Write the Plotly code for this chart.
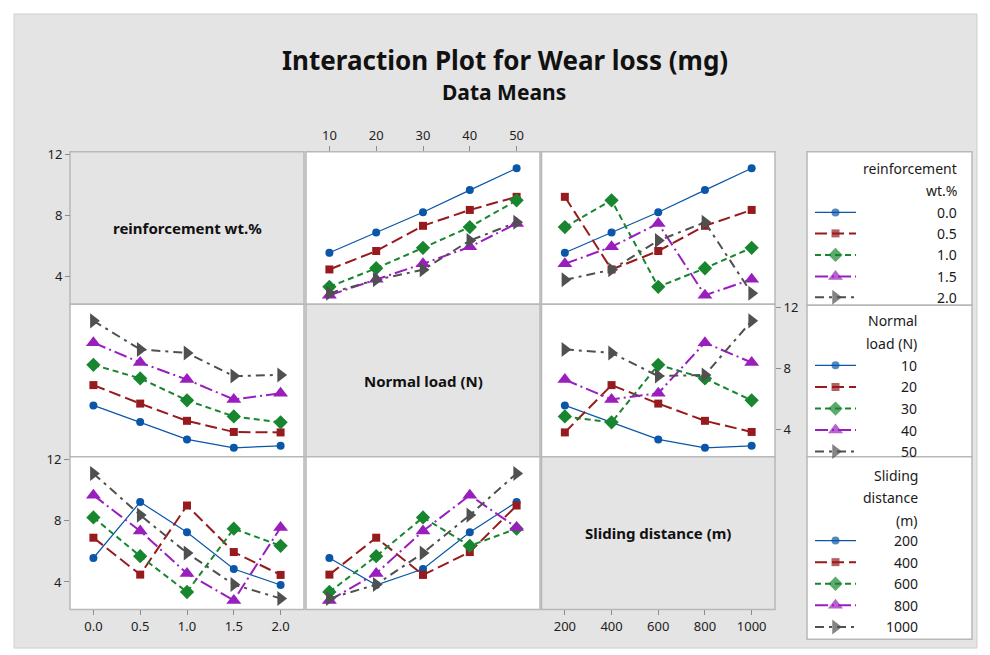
import plotly.graph_objects as go
import pandas as pd

# ---------------- data (L25 runs) ----------------
reinforcement = [0.0, 0.0, 0.0, 0.0, 0.0,
                 0.5, 0.5, 0.5, 0.5, 0.5,
                 1.0, 1.0, 1.0, 1.0, 1.0,
                 1.5, 1.5, 1.5, 1.5, 1.5,
                 2.0, 2.0, 2.0, 2.0, 2.0]
normal_load = [10, 20, 30, 40, 50,
               10, 20, 30, 40, 50,
               10, 20, 30, 40, 50,
               10, 20, 30, 40, 50,
               10, 20, 30, 40, 50]
sliding_distance = [200, 400, 600, 800, 1000,
                    400, 600, 800, 1000, 200,
                    600, 800, 1000, 200, 400,
                    800, 1000, 200, 400, 600,
                    1000, 200, 400, 600, 800]
wear_loss = [5.57, 6.90, 8.23, 9.68, 11.11,
             4.48, 5.69, 7.34, 8.38, 9.24,
             3.34, 4.56, 5.90, 7.26, 9.01,
             2.79, 3.83, 4.85, 5.96, 7.49,
             2.92, 3.80, 4.46, 6.37, 7.57]

reinf_levels = [0.0, 0.5, 1.0, 1.5, 2.0]
load_levels = [10, 20, 30, 40, 50]
dist_levels = [200, 400, 600, 800, 1000]
reinf_labels = ["0.0", "0.5", "1.0", "1.5", "2.0"]
load_labels = ["10", "20", "30", "40", "50"]
dist_labels = ["200", "400", "600", "800", "1000"]
y_ticks = [4, 8, 12]

factor_names = ["reinforcement wt.%", "Normal load (N)", "Sliding distance (m)"]
legend_titles = [["reinforcement", "wt.%"], ["Normal", "load (N)"], ["Sliding", "distance", "(m)"]]

df = pd.DataFrame({"f0": reinforcement, "f1": normal_load, "f2": sliding_distance, "y": wear_loss})
levels = [reinf_levels, load_levels, dist_levels]
labels = [reinf_labels, load_labels, dist_labels]

# ---------------- styling ----------------
W, H = 990, 655
colors = ["#0A56A8", "#971B1E", "#17862F", "#9A1EBE", "#505050"]
symbols = ["circle", "square", "diamond", "triangle-up", "triangle-right"]
dashes = ["solid", "12px,5px", "6px,4px", "13px,4px,2px,4px", "9px,5px,3px,5px"]
widths = [1.2, 2, 2, 2, 2]
msizes = [8, 8, 11, 13, 13]
FONT = "Noto Sans"
BG = "#e4e4e4"
BORDER = "#b8b8b8"

cols_px = [(70, 304), (306, 540), (541.5, 775)]
rows_px = [(147, 301), (301, 455), (455, 609)]
xranges = [[-0.25, 2.25], [5, 55], [100, 1100]]
yrange = [2.2, 12.2]


def xp(px):
    return px / W


def yp(py):
    return 1 - py / H


fig = go.Figure()

panel_ids = {(0, 1): 1, (0, 2): 2, (1, 0): 3, (1, 2): 4, (2, 0): 5, (2, 1): 6}
tickfont = dict(family=FONT, size=13, color="#1e1e1e")

for (r, c), k in panel_ids.items():
    means = df.groupby([f"f{r}", f"f{c}"])["y"].mean()
    for i, lv in enumerate(levels[r]):
        sub = means.loc[lv]
        xs = [x for x in levels[c] if x in sub.index]
        ys = [sub.loc[x] for x in xs]
        fig.add_trace(go.Scatter(
            x=xs, y=ys, mode="lines+markers",
            xaxis=f"x{k}", yaxis=f"y{k}", showlegend=False, cliponaxis=False,
            line=dict(color=colors[i], width=widths[i], dash=dashes[i]),
            marker=dict(symbol=symbols[i], size=msizes[i], color=colors[i], line=dict(width=0)),
            hoverinfo="skip",
        ))
    base_x = dict(domain=[xp(cols_px[c][0]), xp(cols_px[c][1])], range=xranges[c],
                  showgrid=False, zeroline=False, showline=False, ticks="",
                  showticklabels=False, anchor=f"y{k}", fixedrange=True)
    base_y = dict(domain=[yp(rows_px[r][1]), yp(rows_px[r][0])], range=yrange,
                  showgrid=False, zeroline=False, showline=False, ticks="",
                  showticklabels=False, anchor=f"x{k}", fixedrange=True)
    tick_style = dict(ticks="outside", ticklen=5, tickwidth=1, tickcolor="#8c8c8c",
                      showticklabels=True, tickfont=tickfont)
    if (r, c) == (0, 1):
        base_x.update(tick_style, side="top", tickvals=levels[c], ticktext=labels[c])
        base_y.update(tick_style, tickvals=y_ticks, anchor="free", position=xp(cols_px[0][0]), side="left")
    if (r, c) == (1, 2):
        base_x.update(tick_style, side="bottom", tickvals=levels[c], ticktext=labels[c],
                      anchor="free", position=yp(rows_px[2][1]))
        base_y.update(tick_style, tickvals=y_ticks, side="right")
    if (r, c) == (2, 0):
        base_x.update(tick_style, side="bottom", tickvals=levels[c], ticktext=labels[c])
        base_y.update(tick_style, tickvals=y_ticks, side="left")
    fig.layout[f"xaxis{k}"] = base_x
    fig.layout[f"yaxis{k}"] = base_y

# ---------------- legend (drawn manually in its own hidden axes) ----------------
leg_boxes = [(147, 302), (302, 455), (455, 639)]
leg_text_right = [959, 919, 920]
leg_title_y = [[164, 186.7], [317.3, 341], [474, 495.7, 519]]
leg_item_y = [[208.3, 229.5, 251.2, 273, 294],
              [362.7, 384.5, 406.3, 428, 449.7],
              [539.5, 561.3, 583.1, 604.9, 626.7]]
fig.layout["xaxis7"] = dict(domain=[xp(807), xp(972)], range=[807, 972], visible=False,
                            anchor="y7", fixedrange=True)
fig.layout["yaxis7"] = dict(domain=[yp(639), yp(147)], range=[639, 147], visible=False,
                            anchor="x7", fixedrange=True)
for g in range(3):
    for i in range(5):
        yy = leg_item_y[g][i]
        fig.add_trace(go.Scatter(
            x=[815, 835.5, 856], y=[yy, yy, yy], mode="lines+markers",
            xaxis="x7", yaxis="y7", showlegend=False, hoverinfo="skip", cliponaxis=False,
            line=dict(color=colors[i], width=widths[i], dash=dashes[i]),
            marker=dict(symbol=symbols[i], size=[0, msizes[i], 0], color=colors[i], line=dict(width=0)),
        ))

shapes = [dict(type="rect", xref="paper", yref="paper", x0=xp(14), x1=xp(977), y0=yp(648), y1=yp(8),
               fillcolor=BG, line=dict(color="#cfcfcf", width=1), layer="below")]
for r in range(3):
    for c in range(3):
        shapes.append(dict(type="rect", xref="paper", yref="paper",
                           x0=xp(cols_px[c][0]), x1=xp(cols_px[c][1]),
                           y0=yp(rows_px[r][1]), y1=yp(rows_px[r][0]),
                           fillcolor=(BG if r == c else "white"),
                           line=dict(color=BORDER, width=1.5), layer="below"))
for (t, b) in leg_boxes:
    shapes.append(dict(type="rect", xref="paper", yref="paper", x0=xp(807), x1=xp(972),
                       y0=yp(b), y1=yp(t), fillcolor="white",
                       line=dict(color=BORDER, width=1.5), layer="below"))

annotations = [
    dict(text="Interaction Plot for Wear loss (mg)", x=xp(505), y=yp(55), xref="paper", yref="paper",
         showarrow=False, xanchor="center", yanchor="middle",
         font=dict(family=FONT, size=26, color="#111111", weight="bold")),
    dict(text="Data Means", x=xp(504), y=yp(87), xref="paper", yref="paper",
         showarrow=False, xanchor="center", yanchor="middle",
         font=dict(family=FONT, size=21, color="#111111", weight="bold")),
]
for d in range(3):
    annotations.append(dict(text=factor_names[d],
                            x=xp((cols_px[d][0] + cols_px[d][1]) / 2),
                            y=yp((rows_px[d][0] + rows_px[d][1]) / 2),
                            xref="paper", yref="paper", showarrow=False,
                            xanchor="center", yanchor="middle",
                            font=dict(family=FONT, size=15, color="#111111", weight="bold")))
legfont = dict(family=FONT, size=14, color="#1a1a1a")
for g in range(3):
    for j, t in enumerate(legend_titles[g]):
        annotations.append(dict(text=t, x=xp(leg_text_right[g]), y=yp(leg_title_y[g][j]),
                                xref="paper", yref="paper", showarrow=False,
                                xanchor="right", yanchor="middle", font=legfont))
    for i in range(5):
        annotations.append(dict(text=labels[g][i], x=xp(leg_text_right[g]), y=yp(leg_item_y[g][i]),
                                xref="paper", yref="paper", showarrow=False,
                                xanchor="right", yanchor="middle", font=legfont))

fig.update_layout(width=W, height=H, margin=dict(l=0, r=0, t=0, b=0),
                  paper_bgcolor="white", plot_bgcolor="rgba(0,0,0,0)",
                  shapes=shapes, annotations=annotations, showlegend=False,
                  font=dict(family=FONT))
fig.write_html("out.html")
